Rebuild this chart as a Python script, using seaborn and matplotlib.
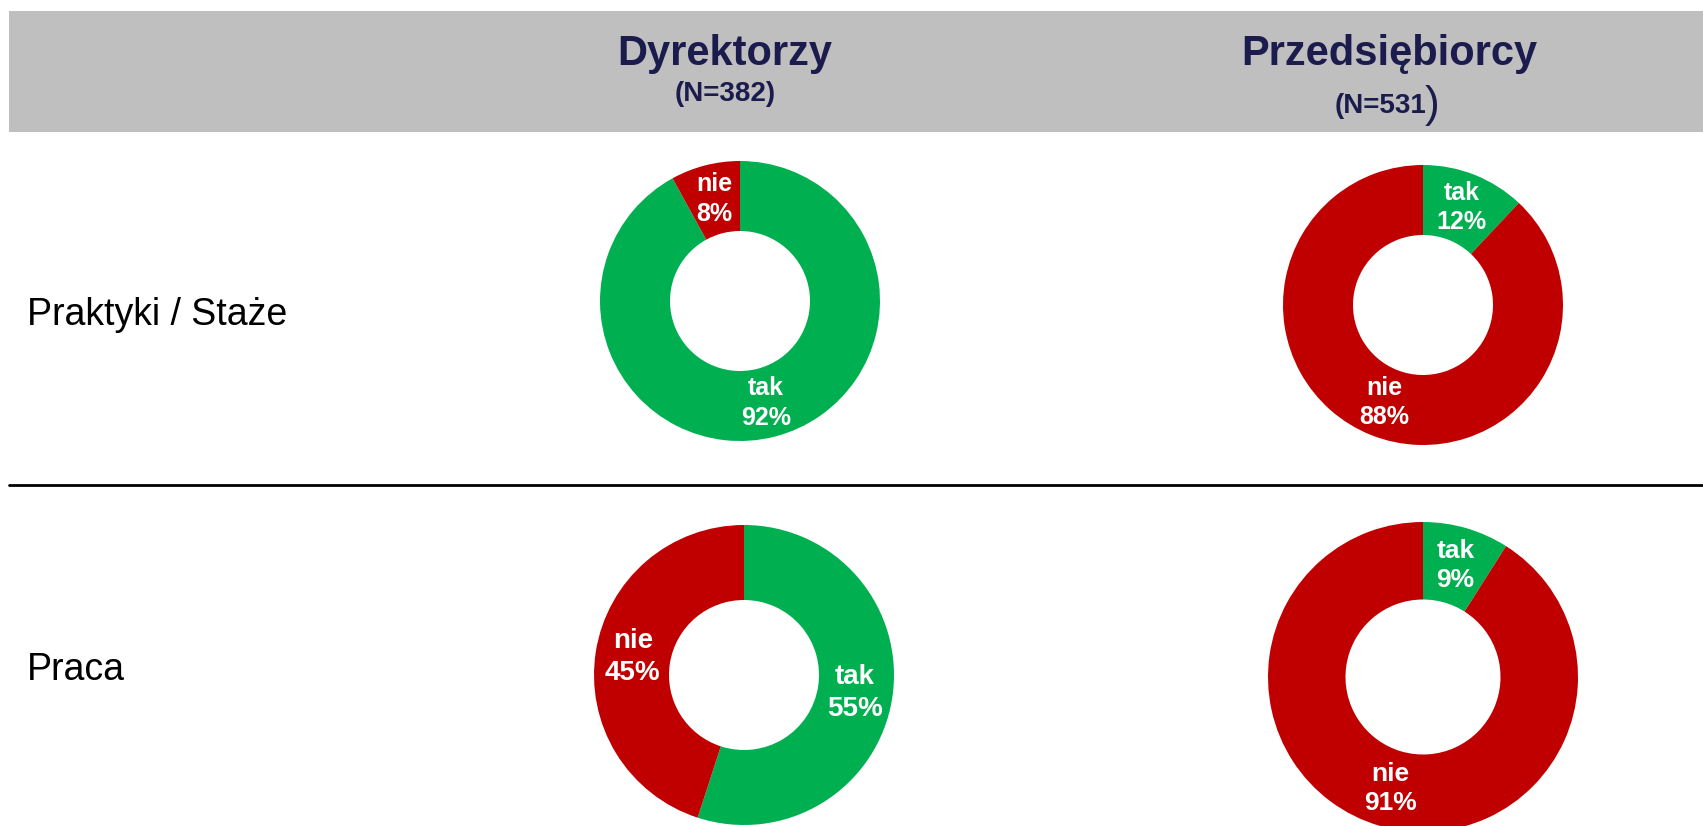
import numpy as np
import pandas as pd
import matplotlib
matplotlib.use("Agg")
import matplotlib.pyplot as plt
import seaborn as sns
from matplotlib.patches import Rectangle
from matplotlib.lines import Line2D

# --- données ---
groups = ["Dyrektorzy", "Przedsiębiorcy"]
group_n = ["(N=382)", "(N=531"]
rows = ["Praktyki / Staże", "Praca"]
answers = ["tak", "nie"]
dyrektorzy_tak = [92, 55]
dyrektorzy_nie = [8, 45]
przedsiebiorcy_tak = [12, 9]
przedsiebiorcy_nie = [88, 91]

sns.set_style("white")
plt.rcParams["font.family"] = ["Liberation Sans", "DejaVu Sans"]

colors = ["#00B050", "#C00000"]
navy = "#1B1B4D"

W, H = 1703, 826
fig = plt.figure(figsize=(W / 100, H / 100), dpi=100)

# overlay axes in pixel coordinates (y down)
bg = fig.add_axes([0, 0, 1, 1])
bg.set_xlim(0, W)
bg.set_ylim(H, 0)
bg.axis("off")

# header band + separator
bg.add_patch(Rectangle((9, 11), W - 9, 121, color="#BFBFBF", lw=0, zorder=0))
bg.add_line(Line2D([9, W], [485, 485], color="black", lw=2))

# column headers
col_x = [725, 1389]
bg.text(col_x[0], 65, groups[0], ha="center", va="baseline", fontsize=30,
        fontweight="bold", color=navy)
bg.text(col_x[0], 101, group_n[0], ha="center", va="baseline", fontsize=20,
        fontweight="bold", color=navy)
bg.text(col_x[1], 65, groups[1], ha="center", va="baseline", fontsize=30,
        fontweight="bold", color=navy)
t1 = bg.text(1380, 113, group_n[1], ha="center", va="baseline", fontsize=20,
             fontweight="bold", color=navy)
bg.annotate(")", xy=(1, 0.5), xycoords=t1, xytext=(-1, 0), textcoords="offset points",
            ha="left", va="center", fontsize=32, color=navy)

# row labels
row_y = [315, 670]
for lab, y in zip(rows, row_y):
    bg.text(27, y, lab, ha="left", va="center", fontsize=27, color="black")

# donuts: (cx, cy, r) in pixels
layout = {
    (0, 0): (740, 301, 140),
    (1, 0): (1423, 305, 140),
    (0, 1): (744, 675, 150),
    (1, 1): (1423, 677, 155),
}
font_sizes = {(0, 0): 18, (1, 0): 18, (0, 1): 20, (1, 1): 19}

values = {
    0: (dyrektorzy_tak, dyrektorzy_nie),
    1: (przedsiebiorcy_tak, przedsiebiorcy_nie),
}

for (g, r_i), (cx, cy, r) in layout.items():
    ax = fig.add_axes([(cx - r) / W, 1 - (cy + r) / H, 2 * r / W, 2 * r / H])
    tak, nie = values[g]
    vals = [tak[r_i], nie[r_i]]
    it = iter(answers)
    ax.pie(vals, colors=colors, startangle=90, counterclock=False,
           wedgeprops=dict(width=0.5, linewidth=0),
           autopct=lambda p: f"{next(it)}\n{p:.0f}%", pctdistance=0.75,
           textprops=dict(color="white", fontweight="bold",
                          fontsize=font_sizes[(g, r_i)], linespacing=1.3))
    ax.set_xlim(-1, 1)
    ax.set_ylim(-1, 1)
    ax.set_aspect("equal")
    ax.axis("off")

fig.savefig("out.png", dpi=100)
